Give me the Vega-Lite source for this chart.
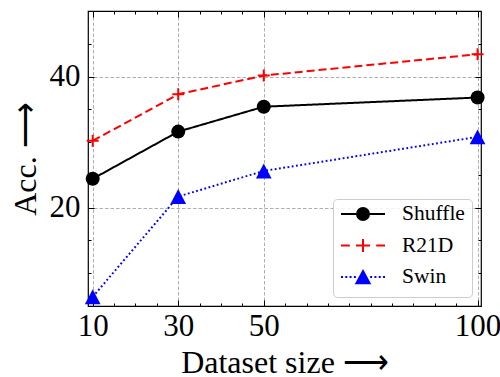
{
  "$schema": "https://vega.github.io/schema/vega-lite/v6.json",
  "width": 393,
  "height": 295,
  "autosize": {"type": "none"},
  "padding": {"left": 88, "top": 11, "right": 19, "bottom": 71},
  "config": {
    "view": {"stroke": "#000000", "strokeWidth": 1.2},
    "font": "Liberation Serif",
    "axis": {
      "domain": false,
      "grid": false,
      "labels": false,
      "ticks": true,
      "tickColor": "#000000",
      "tickWidth": 1,
      "labelFont": "Liberation Serif",
      "titleFont": "Liberation Serif",
      "labelColor": "#000000",
      "titleColor": "#000000",
      "gridColor": "#999999",
      "gridDash": [3.5, 2],
      "gridWidth": 0.8,
      "labelFontSize": 31,
      "titleFontSize": 32,
      "titleFontWeight": "normal",
      "labelFlush": false,
      "labelOverlap": false
    },
    "legend": {
      "orient": "bottom-right",
      "offset": 9.5,
      "fillColor": "rgba(255,255,255,0.85)",
      "strokeColor": "#cccccc",
      "cornerRadius": 4,
      "padding": 3,
      "labelFont": "Liberation Serif",
      "labelFontSize": 21.5,
      "labelColor": "#000000",
      "labelOffset": 42,
      "rowPadding": 2.5,
      "symbolSize": 484,
      "symbolStrokeWidth": 2,
      "symbolOpacity": 1
    }
  },
  "data": {
    "values": [
      {"series": "Shuffle", "size": 10, "acc": 24.4},
      {"series": "Shuffle", "size": 30, "acc": 31.6},
      {"series": "Shuffle", "size": 50, "acc": 35.4},
      {"series": "Shuffle", "size": 100, "acc": 36.8},
      {"series": "R21D", "size": 10, "acc": 30.2},
      {"series": "R21D", "size": 30, "acc": 37.3},
      {"series": "R21D", "size": 50, "acc": 40.15},
      {"series": "R21D", "size": 100, "acc": 43.4},
      {"series": "Swin", "size": 10, "acc": 6.4},
      {"series": "Swin", "size": 30, "acc": 21.7},
      {"series": "Swin", "size": 50, "acc": 25.6},
      {"series": "Swin", "size": 100, "acc": 30.8}
    ]
  },
  "resolve": {
    "axis": {"x": "independent", "y": "independent"},
    "scale": {"shape": "independent", "fill": "independent", "stroke": "independent"}
  },
  "layer": [
    {
      "mark": {"type": "line", "strokeWidth": 2},
      "encoding": {
        "x": {"field": "size", "type": "quantitative",
          "scale": {"domain": [8.9, 100.8], "nice": false, "zero": false},
          "axis": {"orient": "bottom", "values": [10, 30, 50, 100], "tickSize": -6, "labels": true, "grid": true,
            "labelPadding": 11, "title": "Dataset size ⟶", "titlePadding": 6}},
        "y": {"field": "acc", "type": "quantitative",
          "scale": {"domain": [5, 50], "nice": false, "zero": false},
          "axis": {"orient": "left", "values": [20, 40], "tickSize": -6, "labels": true, "grid": true,
            "labelPadding": 14, "title": "Acc. ⟶", "titlePadding": 7}},
        "color": {"field": "series", "type": "nominal",
          "scale": {"domain": ["Shuffle", "R21D", "Swin"], "range": ["#000000", "#ff0000", "#0000ff"]},
          "legend": null},
        "strokeDash": {"field": "series", "type": "nominal",
          "scale": {"domain": ["Shuffle", "R21D", "Swin"], "range": [[1, 0], [8, 4], [1.8, 2.5]]},
          "legend": null}
      }
    },
    {
      "transform": [{"filter": "datum.series !== 'R21D'"}],
      "mark": {"type": "point", "filled": true, "opacity": 1, "size": 196, "strokeWidth": 0},
      "encoding": {
        "x": {"field": "size", "type": "quantitative",
          "axis": {"orient": "bottom", "values": [10, 15, 20, 25, 30, 35, 40, 45, 50, 55, 60, 65, 70, 75, 80, 85, 90, 95, 100], "tickSize": -3, "title": null}},
        "y": {"field": "acc", "type": "quantitative",
          "axis": {"orient": "left", "values": [10, 15, 20, 25, 30, 35, 40, 45], "tickSize": -3, "title": null}},
        "color": {"field": "series", "type": "nominal", "legend": null},
        "shape": {"field": "series", "type": "nominal",
          "scale": {"domain": ["Shuffle", "R21D", "Swin"], "range": ["circle", "M-0.85,0H0.85M0,-0.85V0.85", "M0,-1.07L1.12,1.07L-1.12,1.07Z"]},
          "legend": null}
      }
    },
    {
      "transform": [{"filter": "datum.series === 'R21D'"}],
      "mark": {"type": "point", "filled": false, "opacity": 1, "size": 196, "strokeWidth": 2, "shape": "M-0.85,0H0.85M0,-0.85V0.85"},
      "encoding": {
        "x": {"field": "size", "type": "quantitative",
          "axis": {"orient": "top", "values": [10, 30, 50, 100], "tickSize": -6, "title": null}},
        "y": {"field": "acc", "type": "quantitative",
          "axis": {"orient": "right", "values": [20, 40], "tickSize": -6, "title": null}},
        "color": {"field": "series", "type": "nominal", "legend": null}
      }
    },
    {
      "mark": {"type": "point", "opacity": 0},
      "encoding": {
        "x": {"field": "size", "type": "quantitative",
          "axis": {"orient": "top", "values": [10, 15, 20, 25, 30, 35, 40, 45, 50, 55, 60, 65, 70, 75, 80, 85, 90, 95, 100], "tickSize": -3, "title": null}},
        "y": {"field": "acc", "type": "quantitative",
          "axis": {"orient": "right", "values": [10, 15, 20, 25, 30, 35, 40, 45], "tickSize": -3, "title": null}}
      }
    },
    {
      "mark": {"type": "point", "opacity": 0, "strokeWidth": 2},
      "encoding": {
        "x": {"field": "size", "type": "quantitative", "axis": null},
        "y": {"field": "acc", "type": "quantitative", "axis": null},
        "fill": {"field": "series", "type": "nominal",
          "scale": {"domain": ["Shuffle", "R21D", "Swin"], "range": ["#000000", "#ff0000", "#0000ff"]},
          "legend": {"title": null}},
        "stroke": {"field": "series", "type": "nominal",
          "scale": {"domain": ["Shuffle", "R21D", "Swin"], "range": ["#000000", "#ff0000", "#0000ff"]},
          "legend": {"title": null}},
        "shape": {"field": "series", "type": "nominal",
          "scale": {"domain": ["Shuffle", "R21D", "Swin"], "range": [
            "M-0.636,0H3.364M0.819,0A0.545,0.545,0,1,1,1.909,0A0.545,0.545,0,1,1,0.819,0ZM1.364,1.18H1.364M10.55,0H10.55",
            "M-0.636,0H0.164M0.724,0H2.004M1.364,-0.6V0.6M2.564,0H3.364M1.364,1.18H1.364M10.55,0H10.55",
            "M1.364,-0.54L1.964,0.56L0.764,0.56ZM-0.636,0H-0.456M-0.246,0H-0.066M0.144,0H0.324M0.534,0H0.714M2.014,0H2.194M2.404,0H2.584M2.794,0H2.974M3.184,0H3.364M1.364,1.18H1.364M10.55,0H10.55"
          ]},
          "legend": {"title": null}}
      }
    }
  ]
}
